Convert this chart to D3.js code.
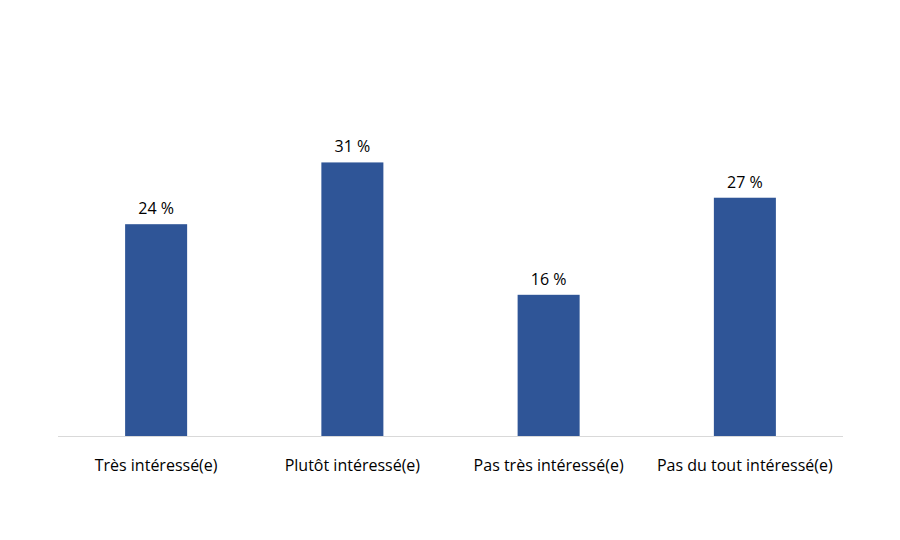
<!DOCTYPE html>
<html>
<head>
<meta charset="utf-8">
<script src="https://cdn.jsdelivr.net/npm/d3@7"></script>
<style>
  body { margin: 0; background: #fff; }
  text { font-family: "Open Sans", "Liberation Sans", sans-serif; fill: #000; }
</style>
</head>
<body>
<svg id="chart" width="900" height="540"></svg>
<script>
// chart data
const categories = ["Très intéressé(e)", "Plutôt intéressé(e)", "Pas très intéressé(e)", "Pas du tout intéressé(e)"];
const values = [24, 31, 16, 27];

const svg = d3.select("#chart");

const x = d3.scaleBand().domain(categories).range([58, 843]).paddingInner(0.684).paddingOuter(0.342);
const y = d3.scaleLinear().domain([0, 40]).range([436, 83]);

// bars
svg.selectAll("rect.bar")
  .data(values)
  .join("rect")
  .attr("class", "bar")
  .attr("x", (d, i) => x(categories[i]))
  .attr("y", d => y(d))
  .attr("width", x.bandwidth())
  .attr("height", d => y(0) - y(d))
  .attr("fill", "#2F5597");

// baseline
svg.append("line")
  .attr("x1", 58).attr("x2", 843)
  .attr("y1", y(0) + 0.5).attr("y2", y(0) + 0.5)
  .attr("stroke", "#d9d9d9");

// value labels
svg.selectAll("text.val")
  .data(values)
  .join("text")
  .attr("class", "val")
  .attr("x", (d, i) => x(categories[i]) + x.bandwidth() / 2)
  .attr("y", d => y(d) - 10)
  .attr("text-anchor", "middle")
  .attr("font-size", 16)
  .text(d => d + " %");

// category labels
svg.selectAll("text.cat")
  .data(categories)
  .join("text")
  .attr("class", "cat")
  .attr("x", d => x(d) + x.bandwidth() / 2)
  .attr("y", 471)
  .attr("text-anchor", "middle")
  .attr("font-size", 16)
  .text(d => d);
</script>
</body>
</html>
